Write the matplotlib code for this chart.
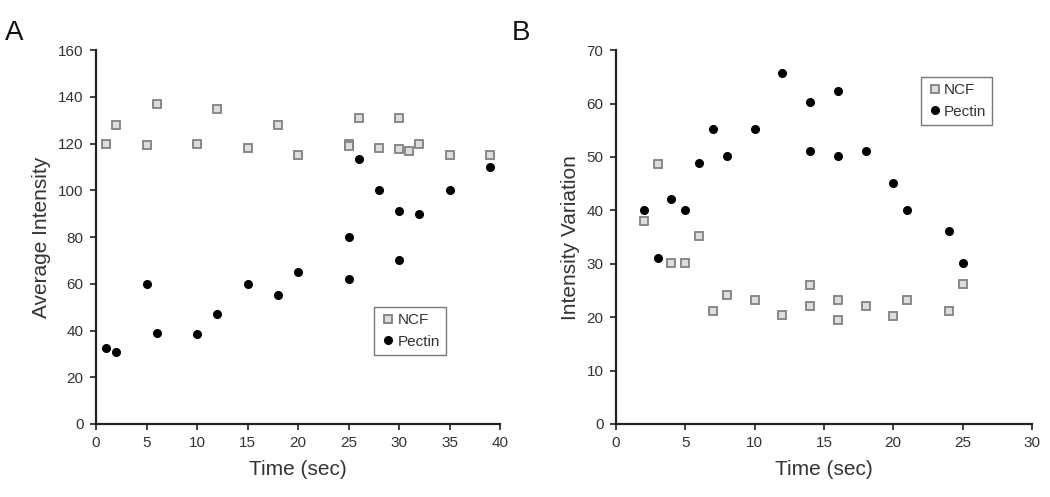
import matplotlib
matplotlib.use("Agg")
import matplotlib.pyplot as plt

plt.rcParams['font.family'] = ['Liberation Sans', 'DejaVu Sans']

# panel A
a_ncf_t = [1, 2, 5, 6, 10, 12, 15, 18, 20, 25, 25, 26, 28, 30, 30, 31, 32, 35, 39]
a_ncf_v = [120, 128, 119.5, 137, 120, 135, 118, 128, 115, 120, 119, 131, 118, 131, 117.5, 117, 120, 115, 115]
a_pec_t = [1, 2, 5, 6, 10, 12, 15, 18, 20, 25, 25, 26, 28, 30, 30, 32, 35, 39]
a_pec_v = [32.5, 30.8, 60, 39, 38.5, 47, 60, 55, 65, 80, 62, 113.5, 100, 91, 70, 90, 100, 110]

# panel B
b_ncf_t = [2, 3, 4, 5, 6, 7, 8, 10, 12, 14, 14, 16, 16, 18, 20, 21, 24, 25]
b_ncf_v = [38, 48.7, 30.1, 30.1, 35.2, 21.2, 24.2, 23.2, 20.4, 26, 22.1, 23.2, 19.4, 22, 20.2, 23.2, 21.2, 26.2]
b_pec_t = [2, 3, 4, 5, 6, 7, 8, 10, 12, 14, 14, 16, 16, 18, 20, 21, 24, 25]
b_pec_v = [40, 31, 42.2, 40, 48.9, 55.2, 50.2, 55.2, 65.7, 60.3, 51.1, 62.4, 50.2, 51.1, 45.1, 40, 36.1, 30.1]

fig = plt.figure(figsize=(10.5, 4.97), dpi=100)
axA = fig.add_axes([0.0914, 0.147, 0.385, 0.752])
axB = fig.add_axes([0.5867, 0.147, 0.396, 0.752])

def style(ax, xmax, ymax, ystep, ylabel, legloc):
    ax.set_xlim(0, xmax)
    ax.set_ylim(0, ymax)
    ax.set_xticks(range(0, xmax + 1, 5))
    ax.set_yticks(range(0, ymax + 1, ystep))
    for s in ['top', 'right']:
        ax.spines[s].set_visible(False)
    for s in ['left', 'bottom']:
        ax.spines[s].set_linewidth(1.6)
        ax.spines[s].set_color('#222222')
    ax.tick_params(direction='out', length=4, width=1.3, labelsize=11, colors='#333333', pad=5)
    ax.set_xlabel('Time (sec)', fontsize=15, color='#333333', labelpad=7)
    ax.set_ylabel(ylabel, fontsize=15, color='#333333', labelpad=5)
    leg = ax.legend(loc='lower left', bbox_to_anchor=legloc, fontsize=11, frameon=True,
                    fancybox=False, edgecolor='#555555', handletextpad=0.1,
                    handlelength=1.0, borderpad=0.4, labelspacing=0.5)
    leg.get_frame().set_linewidth(1.0)
    for t in leg.get_texts():
        t.set_color('#333333')

for ax, nt, nv, pt, pv in [(axA, a_ncf_t, a_ncf_v, a_pec_t, a_pec_v),
                          (axB, b_ncf_t, b_ncf_v, b_pec_t, b_pec_v)]:
    ax.plot(nt, nv, linestyle='none', marker='s', markersize=5.8, markerfacecolor='#dddddd',
            markeredgecolor='#808080', markeredgewidth=1.3, label='NCF')
    ax.plot(pt, pv, linestyle='none', marker='o', markersize=5.5, color='black', label='Pectin')

style(axA, 40, 160, 20, 'Average Intensity', (0.67, 0.165))
style(axB, 30, 70, 10, 'Intensity Variation', (0.715, 0.78))

fig.text(0.005, 0.92, 'A', fontsize=20, color='#111111')
fig.text(0.487, 0.92, 'B', fontsize=20, color='#111111')

fig.savefig('out.png', dpi=100)
